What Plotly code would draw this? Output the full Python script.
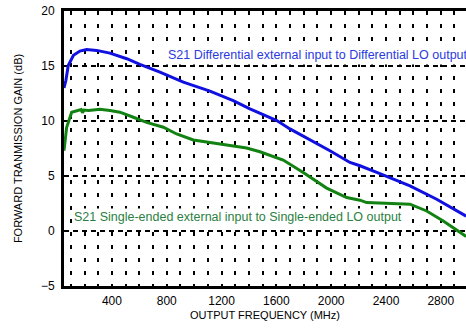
import plotly.graph_objects as go

# Data
freq_blue = [50, 64, 81, 119, 166, 215, 288, 385, 508, 604, 750, 921, 1115, 1285,
             1407, 1480, 1603, 1699, 1991, 2137, 2210, 2333, 2575, 2770, 2985]
gain_blue = [13.0, 13.7, 15.05, 15.97, 16.36, 16.49, 16.42, 16.17, 15.66, 15.15, 14.45,
             13.53, 12.71, 11.86, 11.10, 10.70, 10.04, 9.28, 7.30, 6.23, 5.93, 5.32,
             4.11, 2.89, 1.35]

freq_green = [50, 57, 69, 106, 142, 175, 185, 195, 230, 264, 312, 385, 458, 556, 653,
              775, 872, 994, 1115, 1261, 1383, 1480, 1603, 1650, 1796, 1967, 2113, 2210,
              2259, 2429, 2575, 2697, 2818, 2985]
gain_green = [7.3, 8.0, 9.4, 10.8, 10.95, 11.05, 10.75, 11.0, 10.95, 11.0, 11.07, 10.95,
              10.8, 10.34, 9.88, 9.43, 8.82, 8.27, 8.06, 7.82, 7.54, 7.2, 6.69, 6.45,
              5.32, 3.9, 3.04, 2.8, 2.58, 2.5, 2.44, 1.82, 0.91, -0.5]

x_ticks = [400, 800, 1200, 1600, 2000, 2400, 2800]
y_ticks = [-5, 0, 5, 10, 15, 20]

label_blue = "S21 Differential external input to Differential LO output"
label_green = "S21 Single-ended external input to Single-ended LO output"

FONT = "Liberation Sans, Arial, sans-serif"

fig = go.Figure()
fig.add_trace(go.Scatter(x=freq_blue, y=gain_blue, mode="lines",
                         line=dict(color="#1010e0", width=3), showlegend=False))
fig.add_trace(go.Scatter(x=freq_green, y=gain_green, mode="lines",
                         line=dict(color="#128212", width=3), showlegend=False))

fig.add_annotation(x=790, y=15.97, xref="x", yref="y", text=label_blue,
                   xanchor="left", yanchor="middle", showarrow=False,
                   font=dict(family=FONT, size=12.5, color="#2a3ae0"),
                   bgcolor="white", borderpad=2)
fig.add_annotation(x=112, y=1.28, xref="x", yref="y", text=label_green,
                   xanchor="left", yanchor="middle", showarrow=False,
                   font=dict(family=FONT, size=12.5, color="#2a8040"),
                   bgcolor="white", borderpad=1)

fig.update_layout(
    width=466, height=333,
    margin=dict(l=64, r=0, t=11, b=47),
    paper_bgcolor="white", plot_bgcolor="white",
    font=dict(family=FONT, size=11, color="black"),
    xaxis=dict(
        range=[50, 2984], tickvals=x_ticks, ticks="", ticklabelstandoff=2,
        showgrid=True, gridcolor="black", gridwidth=2, griddash="4px,9px",
        minor=dict(dtick=100, tick0=0, showgrid=True, gridcolor="black",
                   gridwidth=2, griddash="4px,9px"),
        showline=True, linecolor="black", linewidth=3, mirror=True,
        zeroline=False,
        title=dict(text="OUTPUT FREQUENCY (MHz)", font=dict(size=11), standoff=4),
        tickfont=dict(size=12),
    ),
    yaxis=dict(
        range=[-5, 20], tickvals=y_ticks, ticks="", ticklabelstandoff=4,
        showgrid=True, gridcolor="black", gridwidth=2, griddash="5px,4px",
        showline=True, linecolor="black", linewidth=3, mirror=False,
        zeroline=False,
        title=dict(text="FORWARD TRANMISSION GAIN (dB)", font=dict(size=11), standoff=17),
        tickfont=dict(size=12),
    ),
)

# remove the default 8px page margin so the figure fills the window exactly
fig.write_html("out.html", config={"displayModeBar": False},
               post_script="document.body.style.margin='0';")
